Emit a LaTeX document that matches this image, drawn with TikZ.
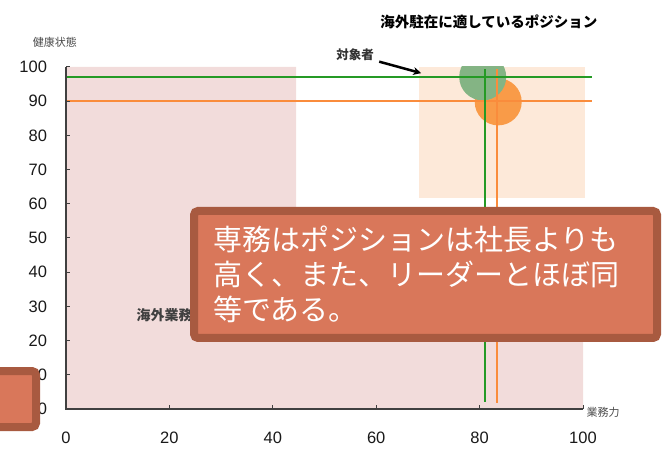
\documentclass[tikz,border=0pt]{standalone}
\usepackage{fontspec}
\setmainfont{Liberation Sans}
\newfontfamily\jp{Noto Sans CJK JP}
\usetikzlibrary{arrows.meta}
\definecolor{pinkbg}{HTML}{F2DCDB}
\definecolor{peachbg}{HTML}{FDE9D9}
\definecolor{linegreen}{HTML}{259A25}
\definecolor{lineorange}{HTML}{FA8C3C}
\definecolor{circgreen}{HTML}{84B484}
\definecolor{circorange}{HTML}{F99B48}
\definecolor{calloutfill}{HTML}{D9775A}
\definecolor{calloutedge}{HTML}{A85A40}
\definecolor{axisgray}{HTML}{404040}

\tikzset{
  callout/.style={draw=calloutedge, fill=calloutfill, line width=8pt, rounded corners=4pt},
  ticklabel/.style={font=\fontsize{16.5}{16.5}\selectfont, text=black!90},
  smalljp/.style={font=\jp\fontsize{11}{11}\selectfont, text=black!70},
}

\begin{document}
\begin{tikzpicture}[x=5.17pt, y=3.42pt]
  \useasboundingbox (-12.766,-12.865) rectangle (115.474,119.59);
  % Shaded areas
  \fill[pinkbg] (0,0) -- (100,0) -- (100,30) -- (44.5,30) -- (44.5,100) -- (0,100) -- cycle;
  \fill[peachbg] (68.3,61.7) rectangle (100.4,100);
  \node[font=\jp\bfseries\fontsize{14}{14}\selectfont, text=black!75, anchor=west] (area) at (13,27.5) {海外業務};
  % Two persons
  \begin{scope}
    \clip (60,0) rectangle (110,100);
    \fill[circorange] (83.6,89.8) circle[radius=23.5pt];
    \fill[circgreen] (80.6,97.1) circle[radius=23.5pt];
  \end{scope}
  \draw[lineorange, line width=2pt] (0,90) -- (101.7,90);
  \draw[lineorange, line width=2pt] (83.4,99.4) -- (83.4,1.8);
  \draw[linegreen, line width=2.5pt] (0,97.1) -- (101.7,97.1);
  \draw[linegreen, line width=2.5pt] (81,99.4) -- (81,2);
  % Axes
  \draw[axisgray, line width=1.2pt] (0,100) -- (0,0) -- (100,0);
  \foreach \v in {10,20,...,100} {
    \draw[axisgray, line width=1pt] (0,\v) -- ++(4pt,0);
  }
  \foreach \v in {20,40,...,100} {
    \draw[axisgray, line width=1pt] (\v,0) -- ++(0,4pt);
  }
  \foreach \v in {0,10,...,100} {
    \node[ticklabel, anchor=east] (ylab\v) at (-3,\v) {\v};
  }
  \foreach \v in {0,20,...,100} {
    \node[ticklabel] (xlab\v) at (\v,-8.5) {\v};
  }
  \node[smalljp] (ytitle) at (-2.13,107.3) {健康状態};
  \node[smalljp] (xtitle) at (103.9,-0.9) {業務力};
  % Title and pointer
  \node[font=\jp\bfseries\fontsize{14.5}{14.5}\selectfont] (title) at (81.8,113.2) {海外駐在に適しているポジション};
  \node[font=\jp\bfseries\fontsize{12.5}{12.5}\selectfont, text=black!80] (target) at (55.9,103.5) {対象者};
  \coordinate (tip) at (68.7,98.2);
  \draw[-{Stealth[length=8pt,width=8pt]}, line width=2.5pt, shorten <=2pt] (target) -- (tip);
  % Comment boxes
  \node[callout, minimum width=463pt, minimum height=127pt, text width=425pt, align=left,
        font=\jp\fontsize{29}{35}\selectfont, text=white] (note) at (69.54,39.33)
        {専務はポジションは社長よりも\\高く、また、リーダーとほぼ同\\等である。};
  \node[callout, minimum width=46pt, minimum height=56pt] (stub) at (-10.25,2.92) {};
\end{tikzpicture}
\end{document}
